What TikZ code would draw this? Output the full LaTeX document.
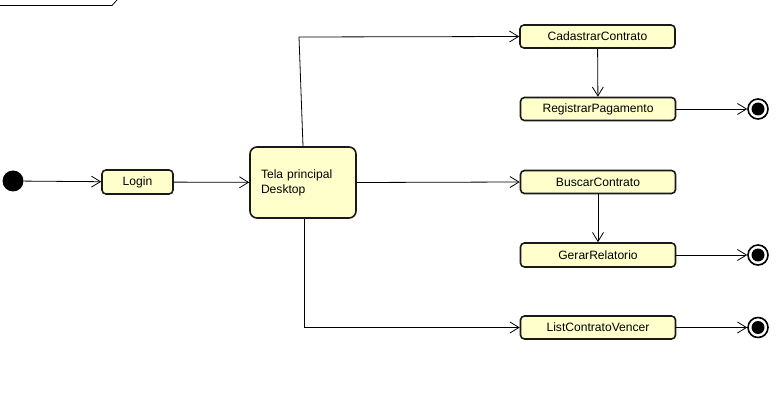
\documentclass[tikz,border=0pt]{standalone}
\usepackage{fontspec}
\setmainfont{Liberation Sans}
\usetikzlibrary{arrows.meta}
\definecolor{boxfill}{RGB}{255,255,204}
\begin{document}
\begin{tikzpicture}[x=1pt,y=-1pt,
  act/.style={draw=black!90,line width=1.6pt,fill=boxfill,rounded corners=4pt,
    minimum height=23pt,inner sep=0pt,font=\fontsize{12.1}{15}\selectfont},
  small/.style={act,minimum width=155pt},
  flow/.style={draw=black,line width=0.8pt,-{Straight Barb[length=9pt,width=11pt,line width=0.8pt]}},
  startnode/.style={circle,fill=black,minimum size=21pt,inner sep=0pt},
  endnode/.style={circle,draw=black,line width=1.6pt,fill=white,minimum size=20pt,inner sep=0pt,
    path picture={\fill[black] (path picture bounding box.center) circle (6.5pt);}}]
\useasboundingbox (0,0) rectangle (781,414);
% frame label remnant
\draw[line width=0.8pt] (0,5.5) -- (112,5.5) -- (117,0);
% nodes
\node[startnode] (init) at (13,181) {};
\node[act,minimum width=71pt,minimum height=24pt] (login) at (137.5,182) {Login};
\node[act,minimum width=106pt,minimum height=71pt,rounded corners=7pt,align=left,text width=84pt] (tela) at (303,182.5) {Tela principal\\Desktop};
\node[small] (cad) at (597.5,36.5) {CadastrarContrato};
\node[small] (reg) at (598,109) {RegistrarPagamento};
\node[small] (busc) at (598,182) {BuscarContrato};
\node[small,minimum height=24pt] (gerar) at (598,255) {GerarRelatorio};
\node[small] (list) at (598,327.5) {ListContratoVencer};
\node[endnode] (f1) at (758,109) {};
\node[endnode] (f2) at (758,255) {};
\node[endnode] (f3) at (758,327.5) {};
\coordinate (c1) at (299,37);
% connectors
\draw[flow] (init) -- (login);
\draw[flow] (login) -- (tela);
\draw[flow] (tela.north) -- (c1) -- (cad.west);
\draw[flow] (tela.east) -- (busc.west);
\draw[flow] ([xshift=1.5pt]tela.south) |- (list.west);
\draw[flow] (cad) -- (reg);
\draw[flow] (busc) -- (gerar);
\draw[flow] (reg) -- (f1);
\draw[flow] (gerar) -- (f2);
\draw[flow] (list) -- (f3);
\end{tikzpicture}
\end{document}
